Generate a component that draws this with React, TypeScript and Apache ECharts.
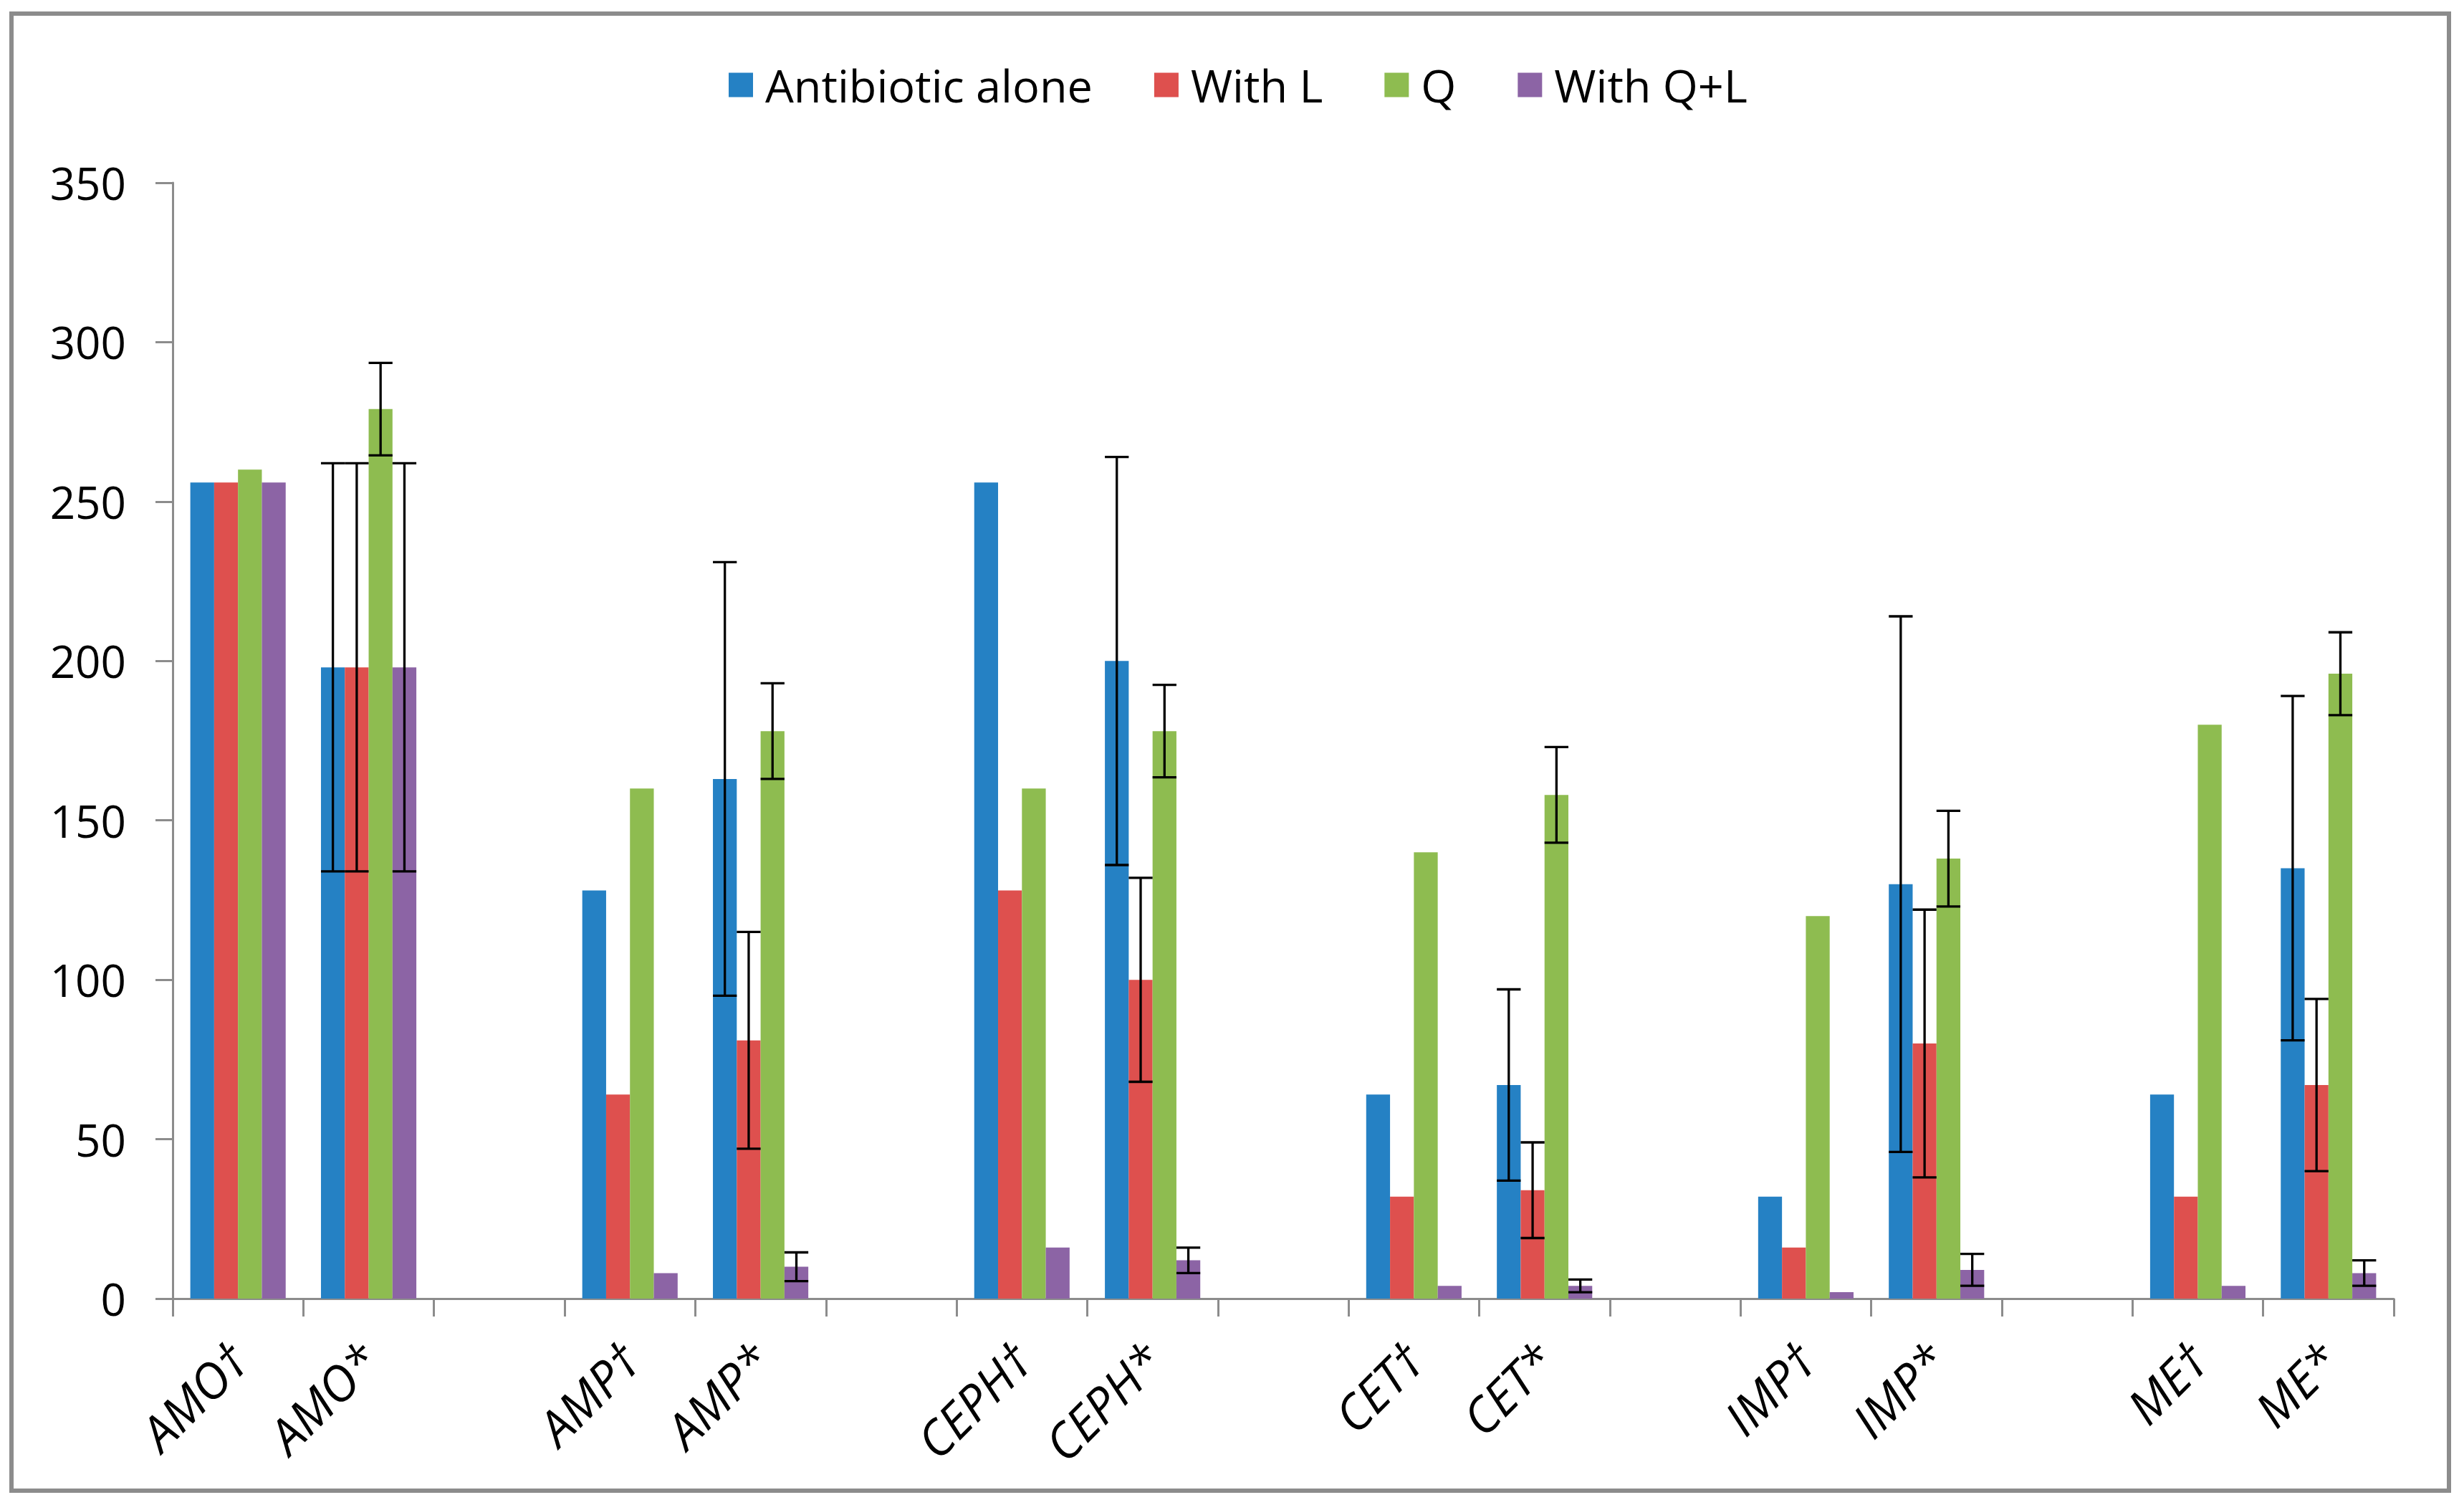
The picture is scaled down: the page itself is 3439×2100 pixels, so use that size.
import React, { useEffect, useRef } from "react";
import * as echarts from "echarts";

const categories = ["AMO†", "AMO*", "", "AMP†", "AMP*", "", "CEPH†", "CEPH*", "", "CET†", "CET*", "", "IMP†", "IMP*", "", "ME†", "ME*"];
const seriesNames = ["Antibiotic alone", "With L", "Q", "With Q+L"];
const colors = ["#2581C4", "#DE504E", "#8EBC50", "#8C64A5"];

const antibioticAlone = [256, 198, null, 128, 163, null, 256, 200, null, 64, 67, null, 32, 130, null, 64, 135];
const withL = [256, 198, null, 64, 81, null, 128, 100, null, 32, 34, null, 16, 80, null, 32, 67];
const q = [260, 279, null, 160, 178, null, 160, 178, null, 140, 158, null, 120, 138, null, 180, 196];
const withQL = [256, 198, null, 8, 10, null, 16, 12, null, 4, 4, null, 2, 9, null, 4, 8];

const antibioticAloneErr = [null, 64, null, null, 68, null, null, 64, null, null, 30, null, null, 84, null, null, 54];
const withLErr = [null, 64, null, null, 34, null, null, 32, null, null, 15, null, null, 42, null, null, 27];
const qErr = [null, 14.5, null, null, 15, null, null, 14.5, null, null, 15, null, null, 15, null, null, 13];
const withQLErr = [null, 64, null, null, 4.5, null, null, 4, null, null, 2, null, null, 5, null, null, 4];

const yTicks = { min: 0, max: 350, interval: 50 };

const FONT = "'Open Sans', 'Noto Sans', sans-serif";
const GAP = 0.27;
const AXIS_GREY = "#8c8c8c";

export default function App() {
  const ref = useRef<HTMLDivElement>(null);
  useEffect(() => {
    if (!ref.current) return;
    const chart = echarts.init(ref.current, undefined, { renderer: "svg" });
    const values = [antibioticAlone, withL, q, withQL];
    const errs = [antibioticAloneErr, withLErr, qErr, withQLErr];

    const barSeries = values.map((vals, si) => ({
      name: seriesNames[si],
      type: "bar",
      data: vals,
      barGap: "0%",
      barCategoryGap: GAP * 100 + "%",
      itemStyle: { color: colors[si] },
      z: 2,
    }));

    const errSeries = errs.map((err, si) => {
      const data: any[] = [];
      err.forEach((e, i) => {
        const v = values[si][i];
        if (e != null && v != null) data.push([i, v, e]);
      });
      return {
        name: seriesNames[si] + " error",
        type: "custom",
        z: 5,
        silent: true,
        data,
        encode: { x: 0, y: 1 },
        renderItem: (params: any, api: any) => {
          const ci = api.value(0);
          const v = api.value(1);
          const e = api.value(2);
          const band = api.size([1, 0])[0];
          const bw = (band * (1 - GAP)) / 4;
          const cx = api.coord([ci, v])[0] + (si - 1.5) * bw;
          const yTop = api.coord([ci, v + e])[1];
          const yBot = api.coord([ci, v - e])[1];
          const half = bw / 2;
          const style = { stroke: "#000", lineWidth: 3.3 };
          return {
            type: "group",
            children: [
              { type: "line", shape: { x1: cx, y1: yTop, x2: cx, y2: yBot }, style },
              { type: "line", shape: { x1: cx - half, y1: yTop, x2: cx + half, y2: yTop }, style },
              { type: "line", shape: { x1: cx - half, y1: yBot, x2: cx + half, y2: yBot }, style },
            ],
          };
        },
      };
    });

    chart.setOption({
      animation: false,
      backgroundColor: "#fff",
      graphic: [
        {
          type: "rect",
          silent: true,
          z: -1,
          shape: { x: 16, y: 19, width: 3402, height: 2061 },
          style: { fill: "none", stroke: AXIS_GREY, lineWidth: 6 },
        },
      ],
      legend: {
        data: seriesNames,
        left: 1012,
        top: 82,
        icon: "rect",
        itemWidth: 34,
        itemHeight: 34,
        itemGap: 86,
        textStyle: { fontSize: 63, fontFamily: FONT, color: "#000", padding: [0, 0, 0, 12] },
      },
      grid: { left: 241, right: 98, top: 255, bottom: 288, containLabel: false },
      xAxis: {
        type: "category",
        data: categories,
        axisLine: { lineStyle: { color: AXIS_GREY, width: 3 } },
        axisTick: { show: true, interval: 0, length: 25, lineStyle: { color: AXIS_GREY, width: 3 } },
        axisLabel: {
          interval: 0,
          rotate: 45,
          margin: 74,
          fontSize: 68,
          fontStyle: "italic",
          fontFamily: FONT,
          color: "#000",
        },
      },
      yAxis: {
        type: "value",
        min: yTicks.min,
        max: yTicks.max,
        interval: yTicks.interval,
        splitLine: { show: false },
        axisLine: { show: true, lineStyle: { color: AXIS_GREY, width: 3 } },
        axisTick: { show: true, length: 24, lineStyle: { color: AXIS_GREY, width: 3 } },
        axisLabel: { fontSize: 62, fontFamily: FONT, color: "#000", margin: 65 },
      },
      series: [...barSeries, ...errSeries],
    });
    return () => chart.dispose();
  }, []);
  return (
    <div
      ref={ref}
      style={{ position: "absolute", left: 0, top: 0, width: 3439, height: 2100, background: "#fff" }}
    />
  );
}
